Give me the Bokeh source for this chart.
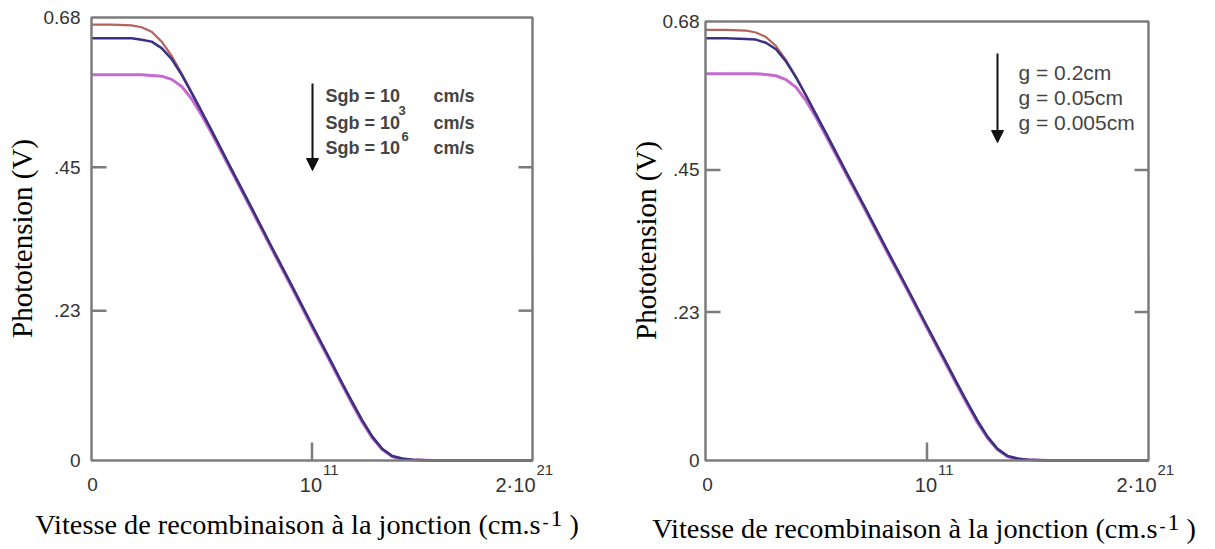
from math import pi

from bokeh.embed import file_html
from bokeh.layouts import row
from bokeh.models import Arrow, Label, NormalHead, Range1d
from bokeh.plotting import figure
from bokeh.resources import INLINE

# ---------------------------------------------------------------- data
# horizontal position = log10 of the junction recombination velocity Sf
log_sf = [0, 1, 2, 2.5, 3, 3.5, 4, 4.5, 5, 5.5, 6, 7, 8, 9, 10, 11,
          12, 12.5, 13, 13.5, 14, 14.5, 15, 15.5, 16, 17, 22]

# photovoltage (V) for three grain-boundary recombination velocities
v_sgb_a = [0.669, 0.669, 0.668, 0.665, 0.658, 0.643, 0.621, 0.594, 0.565, 0.536,
           0.506, 0.446, 0.387, 0.327, 0.268, 0.208, 0.149, 0.119, 0.090, 0.062,
           0.037, 0.018, 0.007, 0.003, 0.001, 0.0, 0.0]
v_sgb_b = [0.648, 0.648, 0.648, 0.646, 0.643, 0.633, 0.616, 0.592, 0.564, 0.535,
           0.506, 0.446, 0.387, 0.327, 0.268, 0.208, 0.149, 0.119, 0.090, 0.062,
           0.037, 0.018, 0.007, 0.003, 0.001, 0.0, 0.0]
v_sgb_c = [0.592, 0.592, 0.592, 0.592, 0.591, 0.590, 0.585, 0.574, 0.555, 0.530,
           0.502, 0.443, 0.384, 0.324, 0.265, 0.205, 0.146, 0.116, 0.087, 0.059,
           0.035, 0.017, 0.006, 0.002, 0.001, 0.0, 0.0]

# photovoltage (V) for three grain sizes
v_g_a = [0.667, 0.667, 0.666, 0.663, 0.656, 0.642, 0.620, 0.594, 0.565, 0.536,
         0.506, 0.446, 0.387, 0.327, 0.268, 0.208, 0.149, 0.119, 0.090, 0.062,
         0.037, 0.018, 0.007, 0.003, 0.001, 0.0, 0.0]
v_g_b = [0.654, 0.654, 0.653, 0.652, 0.647, 0.637, 0.618, 0.593, 0.565, 0.535,
         0.506, 0.446, 0.387, 0.327, 0.268, 0.208, 0.149, 0.119, 0.090, 0.062,
         0.037, 0.018, 0.007, 0.003, 0.001, 0.0, 0.0]
v_g_c = [0.599, 0.599, 0.599, 0.599, 0.598, 0.596, 0.590, 0.578, 0.557, 0.531,
         0.502, 0.443, 0.384, 0.324, 0.265, 0.205, 0.146, 0.116, 0.087, 0.059,
         0.035, 0.017, 0.006, 0.002, 0.001, 0.0, 0.0]

x_ticks = [0, 11, 22]
x_tick_base = ["0", "10", "2·10"]
x_tick_exp = ["", "11", "21"]
y_ticks = [0.0, 0.23, 0.45, 0.68]
y_tick_labels = ["0", ".23", ".45", "0.68"]
inner_y_ticks = [0.23, 0.45]
inner_x_ticks = [11]

sgb_lines = ["Sgb = 10", "Sgb = 10", "Sgb = 10"]
sgb_unit = "cm/s"
sgb_exps = ["3", "6"]
g_lines = ["g = 0.2cm", "g = 0.05cm", "g = 0.005cm"]

x_title = "Vitesse de recombinaison à la jonction (cm.s"
x_title_exp = ["-", "1", ")"]
y_title = "Phototension (V)"

X_MIN, X_MAX = 0, 22
Y_MIN, Y_MAX = 0, 0.68
H = 549

COL_RED = "#b5615c"
COL_BLUE = "#393282"
COL_MAG = "#c46ad0"
FRAME = "#7c7c7c"
TICK_TXT = "#333333"


def make_panel(geom, curves, legend):
    # geom: canvas width, box margins (px) and offset of this canvas in the page
    w, bl, br, bt, bb, x0 = (geom[k] for k in ("w", "bl", "br", "bt", "bb", "x0"))
    fw = w - bl - br
    fh = H - bt - bb
    du = (X_MAX - X_MIN) / fw
    dv = (Y_MAX - Y_MIN) / fh

    def at(gx, gy):
        u = X_MIN + (gx - x0 - bl) * du
        v = Y_MIN + (H - bb - gy) * dv
        return u, v

    # the data ranges are widened so that tick labels and titles fit around the box
    p = figure(width=w, height=H, output_backend="svg", toolbar_location=None,
               x_range=Range1d(X_MIN - bl * du, X_MAX + br * du),
               y_range=Range1d(Y_MIN - bb * dv, Y_MAX + bt * dv),
               x_axis_location=None, y_axis_location=None)
    p.min_border_left = p.min_border_right = 0
    p.min_border_top = p.min_border_bottom = 0
    p.grid.visible = False
    p.outline_line_color = None
    p.background_fill_color = "white"
    p.border_fill_color = "white"

    def label(gx, gy, text, align, font, size, color, style="normal", angle=0.0):
        u, v = at(gx, gy)
        p.add_layout(Label(x=u, y=v, text=text, text_align=align, text_baseline="middle",
                           text_font=font, text_font_size=size, text_color=color,
                           text_font_style=style, angle=angle))

    # curves
    for ys, col, lw in curves:
        p.line(log_sf, ys, line_color=col, line_width=lw, line_join="round")

    # plot box
    p.quad(left=[X_MIN], right=[X_MAX], bottom=[Y_MIN], top=[Y_MAX],
           fill_color=None, line_color=FRAME, line_width=2.5)

    # inward ticks (left / right sides and bottom)
    n = len(inner_y_ticks)
    p.segment(x0=[X_MIN] * n, y0=inner_y_ticks, x1=[X_MIN + 15 * du] * n, y1=inner_y_ticks,
              line_color=FRAME, line_width=2.5)
    p.segment(x0=[X_MAX - 14 * du] * n, y0=inner_y_ticks, x1=[X_MAX] * n, y1=inner_y_ticks,
              line_color=FRAME, line_width=2.5)
    m = len(inner_x_ticks)
    p.segment(x0=inner_x_ticks, y0=[Y_MIN] * m, x1=inner_x_ticks, y1=[Y_MIN + 18 * dv] * m,
              line_color=FRAME, line_width=2.5)

    # y tick labels
    for yt, txt in zip(y_ticks, y_tick_labels):
        p.add_layout(Label(x=X_MIN - geom["yls"] * du, y=yt, text=txt, text_align="right",
                           text_baseline="middle", text_font="Liberation Sans",
                           text_font_size="19px", text_color=TICK_TXT))

    # x tick labels with raised exponents
    _, vb = at(0, 484)
    _, ve = at(0, 469)
    for xt, base, ex, dx in zip(x_ticks, x_tick_base, x_tick_exp, geom["xdx"]):
        u = xt + dx * du
        if ex:
            p.add_layout(Label(x=u, y=vb, text=base, text_align="right",
                               text_baseline="middle", text_font="Liberation Sans",
                               text_font_size="20px", text_color=TICK_TXT))
            p.add_layout(Label(x=u + 1 * du, y=ve, text=ex, text_align="left",
                               text_baseline="middle", text_font="Liberation Sans",
                               text_font_size="15px", text_color=TICK_TXT))
        else:
            p.add_layout(Label(x=u, y=vb, text=base, text_align="center",
                               text_baseline="middle", text_font="Liberation Sans",
                               text_font_size="19px", text_color=TICK_TXT))

    # axis titles
    tx, ty = geom["xt"]
    label(tx, ty, x_title, "right", "Liberation Serif", "28.3px", "black")
    label(tx + 2, ty - 3, x_title_exp[0], "left", "Liberation Serif", "18px", "black")
    label(tx + 10, ty - 6, x_title_exp[1], "left", "Liberation Serif", "24px", "black")
    label(tx + 29, ty, x_title_exp[2], "left", "Liberation Serif", "28.3px", "black")
    yx, yy = geom["yt"]
    label(yx, yy, y_title, "center", "Liberation Serif", "29px", "black", angle=pi / 2)

    # legend: arrow and text block
    ax_, ay0, ay1 = legend["arrow"]
    us, vs = at(ax_, ay0)
    ue, ve2 = at(ax_, ay1)
    p.add_layout(Arrow(x_start=us, y_start=vs, x_end=ue, y_end=ve2, line_width=2,
                       line_color="#111111",
                       end=NormalHead(size=12, fill_color="#111111", line_color="#111111")))
    for gx, gy, txt, size, style in legend["texts"]:
        label(gx, gy, txt, "left", "Liberation Sans", size, "#444444", style=style)
    return p


left_geom = dict(w=615, bl=91, br=83, bt=17, bb=89, x0=0,
                 yls=11, xdx=[1, 10, 3], xt=(540, 524), yt=(21, 238))
right_geom = dict(w=600, bl=90, br=67, bt=21, bb=89, x0=615,
                  yls=6, xdx=[2, 10, 8], xt=(1157, 528), yt=(645, 240))

left_legend = dict(
    arrow=(312, 83, 170),
    texts=[(325, 95, sgb_lines[0], "18px", "bold"), (433, 95, sgb_unit, "18px", "bold"),
           (325, 122, sgb_lines[1], "18px", "bold"), (433, 122, sgb_unit, "18px", "bold"),
           (325, 147, sgb_lines[2], "18px", "bold"), (433, 147, sgb_unit, "18px", "bold"),
           (398, 110, sgb_exps[0], "13px", "bold"), (401, 136, sgb_exps[1], "13px", "bold")],
)
right_legend = dict(
    arrow=(997, 53, 142),
    texts=[(1018, 72, g_lines[0], "21px", "normal"), (1018, 97, g_lines[1], "21px", "normal"),
           (1018, 122, g_lines[2], "21px", "normal")],
)

p1 = make_panel(left_geom,
                [(v_sgb_c, COL_MAG, 3), (v_sgb_a, COL_RED, 2.2), (v_sgb_b, COL_BLUE, 2.5)],
                left_legend)
p2 = make_panel(right_geom,
                [(v_g_c, COL_MAG, 3), (v_g_a, COL_RED, 2.2), (v_g_b, COL_BLUE, 2.5)],
                right_legend)

layout = row(p1, p2)
open("out.html", "w").write(file_html(layout, INLINE))
